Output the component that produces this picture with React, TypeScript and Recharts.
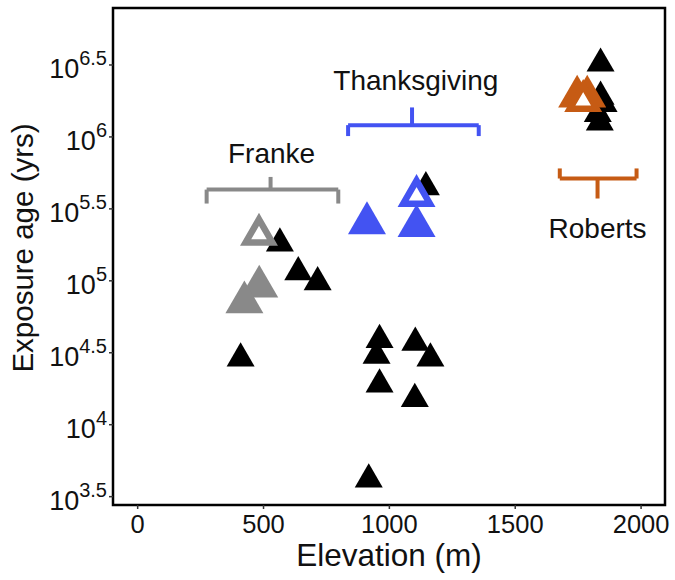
import React from 'react';
import {
  ScatterChart,
  Scatter,
  XAxis,
  YAxis,
  ReferenceLine,
  ReferenceDot,
  ReferenceArea,
  Label
} from 'recharts';

const FONT = '"Liberation Sans", Arial, sans-serif';

// y values are log10 of the exposure age (yrs)
const blackElev = [565, 638, 715, 409, 1145, 961, 949, 961, 1103, 1163, 1101, 918, 1839, 1839, 1851, 1828, 1836];
const blackAge = [5.26, 5.06, 4.99, 4.46, 5.65, 4.59, 4.48, 4.28, 4.57, 4.46, 4.18, 3.62, 6.51, 6.28, 6.23, 6.16, 6.10];

const frankeElev = [483, 424];
const frankeAge = [4.96, 4.85];
const frankeOpenElev = [482];
const frankeOpenAge = [5.32];

const thanksElev = [911, 1108];
const thanksAge = [5.4, 5.38];
const thanksOpenElev = [1108];
const thanksOpenAge = [5.59];

const robertsElev = [1746, 1786];
const robertsAge = [6.28, 6.28];
const robertsOpenElev = [1770];
const robertsOpenAge = [6.25];

// group brackets + labels
const groupNames = ['Franke', 'Thanksgiving', 'Roberts'];
const groupColors = ['#898989', '#4353F2', '#C65B14'];
const bracketLeft = [274, 836, 1677];
const bracketRight = [797, 1355, 1982];
const bracketStemX = [528, 1090, 1827];
const bracketY = [5.634, 6.082, 5.711];
const bracketEndY = [5.537, 6.006, 5.781];
const bracketStemY = [5.722, 6.205, 5.572];
const labelX = [532, 1105, 1827];
const labelY = [5.888, 6.396, 5.369];

const xTicks = [0, 500, 1000, 1500, 2000];
const yTicks = [3.5, 4, 4.5, 5, 5.5, 6, 6.5];
const X_DOMAIN: [number, number] = [-98, 2095];
const Y_DOMAIN: [number, number] = [3.442, 6.896];

const toPoints = (xs: number[], ys: number[]) => xs.map((x, i) => ({ x, y: ys[i] }));

const triangle = (color: string, side: number, open = false) => (props: any) => {
  const { cx, cy } = props;
  const r = side / Math.sqrt(3);
  const pts = `${cx},${cy - r} ${cx + side / 2},${cy + r / 2} ${cx - side / 2},${cy + r / 2}`;
  if (open) {
    return <polygon points={pts} fill="#fff" stroke={color} strokeWidth={6.5} strokeLinejoin="miter" />;
  }
  return <polygon points={pts} fill={color} />;
};

const PowTick = (props: any) => {
  const { x, y, payload } = props;
  return (
    <text x={x} y={y} textAnchor="end" fontFamily={FONT} fill="#111">
      <tspan fontSize={27} dy={13}>10</tspan>
      <tspan fontSize={20} dy={-13}>{String(payload.value)}</tspan>
    </text>
  );
};

const YTitle = () => (
  <text x={33} y={248} transform="rotate(-90, 33, 248)" textAnchor="middle"
    fontSize={29.5} fontFamily={FONT} fill="#111">
    Exposure age (yrs)
  </text>
);

const GroupText = (name: string) => (props: any) => (
  <text x={props.cx} y={props.cy} dy="0.36em" textAnchor="middle" fontSize={28} fontFamily={FONT} fill="#111">
    {name}
  </text>
);

export default function App() {
  return (
    <div style={{ position: 'fixed', left: 0, top: 0, background: '#fff' }}>
      <ScatterChart width={675} height={580} margin={{ top: 8, right: 10, bottom: 0, left: 0 }}>
        <XAxis
          type="number"
          dataKey="x"
          domain={X_DOMAIN}
          ticks={xTicks}
          allowDataOverflow
          height={75}
          axisLine={false}
          tickSize={4}
          tickMargin={6}
          tickLine={{ stroke: '#333', strokeWidth: 1.5 }}
          tick={{ fontSize: 25.5, fill: '#111', fontFamily: FONT }}
        >
          <Label value="Elevation (m)" position="insideBottom" offset={14}
            style={{ fontSize: 31.5, fill: '#111', fontFamily: FONT }} />
        </XAxis>
        <YAxis
          type="number"
          dataKey="y"
          domain={Y_DOMAIN}
          ticks={yTicks}
          allowDataOverflow
          width={113}
          axisLine={false}
          tickSize={4}
          tickLine={{ stroke: '#333', strokeWidth: 1.5 }}
          tick={PowTick}
        >
          <Label content={YTitle} />
        </YAxis>

        <ReferenceArea x1={X_DOMAIN[0]} x2={X_DOMAIN[1]} y1={Y_DOMAIN[0]} y2={Y_DOMAIN[1]}
          fill="none" stroke="#000" strokeWidth={2.5} />

        {groupNames.map((name, i) => (
          <React.Fragment key={name}>
            <ReferenceLine segment={[{ x: bracketLeft[i], y: bracketY[i] }, { x: bracketRight[i], y: bracketY[i] }]}
              stroke={groupColors[i]} strokeWidth={4} />
            <ReferenceLine segment={[{ x: bracketLeft[i], y: bracketY[i] }, { x: bracketLeft[i], y: bracketEndY[i] }]}
              stroke={groupColors[i]} strokeWidth={4} />
            <ReferenceLine segment={[{ x: bracketRight[i], y: bracketY[i] }, { x: bracketRight[i], y: bracketEndY[i] }]}
              stroke={groupColors[i]} strokeWidth={4} />
            <ReferenceLine segment={[{ x: bracketStemX[i], y: bracketY[i] }, { x: bracketStemX[i], y: bracketStemY[i] }]}
              stroke={groupColors[i]} strokeWidth={4} />
            <ReferenceDot x={labelX[i]} y={labelY[i]} r={0} shape={GroupText(name)} />
          </React.Fragment>
        ))}

        <Scatter data={toPoints(blackElev, blackAge)} shape={triangle('#000', 28)} isAnimationActive={false} />
        <Scatter data={toPoints(frankeElev, frankeAge)} shape={triangle(groupColors[0], 38)} isAnimationActive={false} />
        <Scatter data={toPoints(thanksElev, thanksAge)} shape={triangle(groupColors[1], 38)} isAnimationActive={false} />
        <Scatter data={toPoints(robertsElev, robertsAge)} shape={triangle(groupColors[2], 38)} isAnimationActive={false} />
        <Scatter data={toPoints(frankeOpenElev, frankeOpenAge)} shape={triangle(groupColors[0], 26.7, true)} isAnimationActive={false} />
        <Scatter data={toPoints(thanksOpenElev, thanksOpenAge)} shape={triangle(groupColors[1], 26.7, true)} isAnimationActive={false} />
        <Scatter data={toPoints(robertsOpenElev, robertsOpenAge)} shape={triangle(groupColors[2], 26.7, true)} isAnimationActive={false} />
      </ScatterChart>
    </div>
  );
}
